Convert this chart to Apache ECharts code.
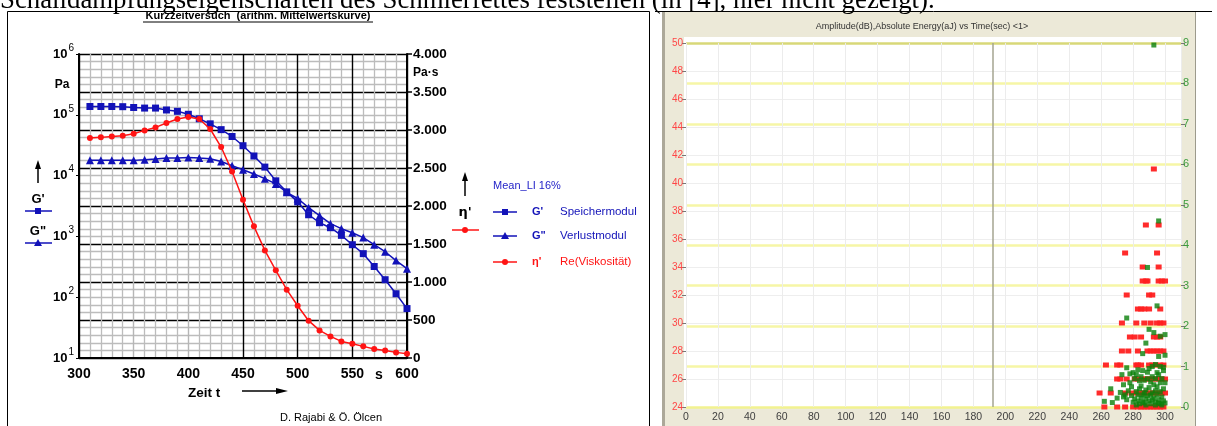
<!DOCTYPE html>
<html>
<head>
<meta charset="utf-8">
<script src="https://cdn.jsdelivr.net/npm/echarts@6/dist/echarts.min.js"></script>
<style>
  html, body { margin: 0; padding: 0; background: #fff; }
  #chart { width: 1217px; height: 426px; }
</style>
</head>
<body>
<div id="chart"></div>
<script>
// ---- Kurzzeitversuch: Zeit t [s] ----
const zeit = [310, 320, 330, 340, 350, 360, 370, 380, 390, 400,
              410, 420, 430, 440, 450, 460, 470, 480, 490, 500,
              510, 520, 530, 540, 550, 560, 570, 580, 590, 600];
// G' Speichermodul [Pa]
const speichermodul = [137000, 137000, 137000, 136000, 132000, 129000, 129000, 120000, 114000, 102000,
                       86000, 71000, 57000, 44000, 31000, 21000, 13800, 8200, 5400, 3700,
                       2270, 1680, 1390, 1040, 730, 520, 320, 194, 114, 65];
// G'' Verlustmodul [Pa]
const verlustmodul = [17800, 17800, 17800, 17800, 17800, 18200, 18700, 19400, 19400, 19900,
                      19400, 19000, 17100, 14500, 12500, 10600, 8900, 7300, 5300, 4200,
                      2970, 2190, 1620, 1340, 1150, 955, 730, 560, 400, 295];
// eta' Re(Viskosität) [Pa·s]
const viskositaet = [2895, 2903, 2916, 2925, 2951, 2995, 3034, 3092, 3145, 3171,
                     3145, 3013, 2776, 2455, 2083, 1732, 1416, 1153, 899, 688,
                     491, 363, 284, 218, 188, 153, 118, 100, 74, 57];

// ---- Schallemission: [Zeit s, Amplitude dB] ----
const amplitude = [
  [293, 41],
  [288, 37], [296, 37],
  [275, 35], [295, 35],
  [286, 34], [296, 34],
  [286, 33], [288, 33], [289, 33], [296, 33], [298, 33], [300, 33],
  [276, 32], [290, 32], [292, 32],
  [283, 31], [285, 31], [287, 31], [290, 31], [297, 31],
  [273, 30], [282, 30], [287, 30], [291, 30], [295, 30], [297, 30], [299, 30],
  [278, 29], [281, 29], [285, 29], [293, 29], [295, 29], [297, 29],
  [273, 28], [277, 28], [283, 28], [289, 28], [291, 28], [293, 28], [295, 28], [297, 28], [299, 28],
  [263, 27], [270, 27], [272, 27], [282, 27], [283, 27], [285, 27], [290, 27], [292, 27], [294, 27], [297, 27], [299, 27],
  [270, 26], [272, 26], [276, 26], [281, 26], [283, 26], [286, 26], [288, 26], [290, 26], [292, 26], [294, 26], [296, 26], [298, 26], [300, 26],
  [259, 25], [266, 25], [275, 25], [279, 25], [282, 25], [284, 25], [286, 25], [288, 25], [290, 25], [292, 25], [294, 25], [296, 25], [298, 25], [300, 25],
  [262, 24], [270, 24], [275, 24], [280, 24], [283, 24], [285, 24], [287, 24], [289, 24], [291, 24], [293, 24], [295, 24], [297, 24], [299, 24]
];
// [Zeit s, Absolute Energy aJ]
const energie = [
  [293, 8.95], [296, 4.6], [289, 3.45], [295, 2.5], [276, 2.2], [290, 1.92], [293, 1.84], [297, 1.75], [300, 1.79],
  [288, 1.58], [286, 1.32], [296, 1.25], [300, 1.28],
  [276, 0.97], [283, 0.92], [292, 1.0], [294, 1.05], [299, 0.98], [280, 0.85], [289, 0.86], [273, 0.8], [296, 0.8],
  [281, 0.7], [287, 0.66], [291, 0.62], [298, 0.7], [274, 0.55], [278, 0.6], [285, 0.52], [290, 0.48], [295, 0.5],
  [266, 0.45], [272, 0.36], [277, 0.4], [282, 0.38], [284, 0.45], [286, 0.3], [288, 0.42], [292, 0.35], [294, 0.4],
  [297, 0.38], [299, 0.45], [270, 0.22], [262, 0.14], [267, 0.11], [274, 0.25], [276, 0.18], [279, 0.28], [280, 0.12],
  [281, 0.2], [283, 0.15], [285, 0.22], [287, 0.1], [288, 0.2], [289, 0.28], [290, 0.15], [291, 0.08], [293, 0.22],
  [294, 0.12], [295, 0.3], [296, 0.18], [297, 0.08], [298, 0.25], [299, 0.15], [300, 0.1], [282, 0.05], [284, 0.08],
  [286, 0.12], [288, 0.05], [292, 0.18], [294, 0.05], [296, 0.1], [298, 0.05], [283, 0.3], [287, 0.35], [291, 0.3],
  [293, 0.55], [297, 0.6], [275, 0.3], [279, 0.5], [284, 0.65], [289, 0.7], [292, 0.75], [295, 0.85], [299, 0.9],
  [282, 0.8], [286, 0.9], [278, 0.82], [285, 0.75], [290, 0.95], [294, 0.7], [297, 1.0], [300, 0.6]
];
const cursorZeit = 192;

const SANS = '"Liberation Sans", Arial, sans-serif';
const BLUE = '#1212b8';
const RED = '#ff1414';

function germanThousands(v) {
  if (v < 1000) return String(v);
  const k = Math.floor(v / 1000), r = v % 1000;
  return k + '.' + String(r).padStart(3, '0');
}

const chart = echarts.init(document.getElementById('chart'), null, { renderer: 'canvas' });

// legend rows drawn beside the rheology plot
function legendRow(y, symbol, color, sym, label) {
  const els = [
    { type: 'line', shape: { x1: 493, y1: y, x2: 517, y2: y }, style: { stroke: color, lineWidth: 1.5 } },
    { type: 'text', x: 532, y: y, style: { text: sym, font: 'bold 11px ' + SANS, fill: color, verticalAlign: 'middle' } },
    { type: 'text', x: 560, y: y, style: { text: label, font: '11.5px ' + SANS, fill: color, verticalAlign: 'middle' } }
  ];
  if (symbol === 'rect') els.push({ type: 'rect', shape: { x: 502, y: y - 3, width: 6, height: 6 }, style: { fill: color } });
  if (symbol === 'triangle') els.push({ type: 'polygon', shape: { points: [[505, y - 4], [509, y + 3], [501, y + 3]] }, style: { fill: color } });
  if (symbol === 'circle') els.push({ type: 'circle', shape: { cx: 505, cy: y, r: 3 }, style: { fill: color } });
  return els;
}

const graphics = [
  // document line above the figures
  { type: 'text', x: 0, y: 1, style: { text: 'Schalldämpfungseigenschaften des Schmierfettes feststellen (in [4], hier nicht gezeigt).', font: '26.8px "Liberation Serif", "Times New Roman", serif', fill: '#000', verticalAlign: 'middle' } },
  // left figure frame
  { type: 'rect', shape: { x: 7.5, y: 11.5, width: 642, height: 430 }, style: { fill: 'none', stroke: '#000', lineWidth: 1 }, z: -1 },
  // right figure window
  { type: 'rect', shape: { x: 662, y: 12, width: 534, height: 420 }, style: { fill: '#ece9d8' }, z: -10 },
  { type: 'rect', shape: { x: 662, y: 12, width: 3, height: 420 }, style: { fill: '#aca899' }, z: -9 },
  { type: 'line', shape: { x1: 1195.5, y1: 12, x2: 1195.5, y2: 426 }, style: { stroke: '#9c9a8c', lineWidth: 1 }, z: -9 },
  { type: 'line', shape: { x1: 655, y1: 11.5, x2: 1212, y2: 11.5 }, style: { stroke: '#000', lineWidth: 1 }, z: -8 },
  { type: 'rect', shape: { x: 684, y: 37, width: 497, height: 370 }, style: { fill: '#fff' }, z: -9 },

  // titles
  { type: 'text', x: 258, y: 16, style: { text: 'Kurzzeitversuch  (arithm. Mittelwertskurve)', font: 'bold 11px ' + SANS, fill: '#000', align: 'center', verticalAlign: 'middle' } },
  { type: 'line', shape: { x1: 143, y1: 22, x2: 373, y2: 22 }, style: { stroke: '#000', lineWidth: 1 } },
  { type: 'text', x: 922, y: 27, style: { text: 'Amplitude(dB),Absolute Energy(aJ) vs Time(sec) <1>', font: '9px ' + SANS, fill: '#333', align: 'center', verticalAlign: 'middle' } },

  // axis annotations
  { type: 'text', x: 62, y: 85, style: { text: 'Pa', font: 'bold 12px ' + SANS, fill: '#000', align: 'center', verticalAlign: 'middle' } },
  { type: 'text', x: 413, y: 73, style: { text: 'Pa·s', font: 'bold 12px ' + SANS, fill: '#000', verticalAlign: 'middle' } },
  { type: 'text', x: 379, y: 375, style: { text: 's', font: 'bold 14px ' + SANS, fill: '#000', align: 'center', verticalAlign: 'middle' } },
  { type: 'text', x: 188, y: 393, style: { text: 'Zeit t', font: 'bold 13.5px ' + SANS, fill: '#000', verticalAlign: 'middle' } },
  { type: 'line', shape: { x1: 242, y1: 391, x2: 280, y2: 391 }, style: { stroke: '#000', lineWidth: 1.5 } },
  { type: 'polygon', shape: { points: [[288, 391], [276, 388], [276, 394]] }, style: { fill: '#000' } },
  { type: 'text', x: 331, y: 418, style: { text: 'D. Rajabi & Ö. Ölcen', font: '11px ' + SANS, fill: '#000', align: 'center', verticalAlign: 'middle' } },

  // left-hand symbol keys
  { type: 'line', shape: { x1: 38, y1: 183, x2: 38, y2: 166 }, style: { stroke: '#000', lineWidth: 1.5 } },
  { type: 'polygon', shape: { points: [[38, 160], [35, 169], [41, 169]] }, style: { fill: '#000' } },
  { type: 'text', x: 38, y: 199, style: { text: "G'", font: 'bold 13px ' + SANS, fill: '#000', align: 'center', verticalAlign: 'middle' } },
  { type: 'line', shape: { x1: 25, y1: 211, x2: 52, y2: 211 }, style: { stroke: BLUE, lineWidth: 1.5 } },
  { type: 'rect', shape: { x: 35, y: 208, width: 6, height: 6 }, style: { fill: BLUE } },
  { type: 'text', x: 38, y: 231, style: { text: 'G"', font: 'bold 13px ' + SANS, fill: '#000', align: 'center', verticalAlign: 'middle' } },
  { type: 'line', shape: { x1: 25, y1: 243, x2: 52, y2: 243 }, style: { stroke: BLUE, lineWidth: 1.5 } },
  { type: 'polygon', shape: { points: [[38, 239], [42, 246], [34, 246]] }, style: { fill: BLUE } },

  // eta' key on the right axis side
  { type: 'line', shape: { x1: 465, y1: 196, x2: 465, y2: 179 }, style: { stroke: '#000', lineWidth: 1.5 } },
  { type: 'polygon', shape: { points: [[465, 172], [462, 181], [468, 181]] }, style: { fill: '#000' } },
  { type: 'text', x: 465, y: 213, style: { text: "η'", font: 'bold 13px "DejaVu Sans", ' + SANS, fill: '#000', align: 'center', verticalAlign: 'middle' } },
  { type: 'line', shape: { x1: 452, y1: 230, x2: 479, y2: 230 }, style: { stroke: RED, lineWidth: 1.5 } },
  { type: 'circle', shape: { cx: 465, cy: 230, r: 3 }, style: { fill: RED } },

  // series legend
  { type: 'text', x: 493, y: 186, style: { text: 'Mean_LI 16%', font: '11px ' + SANS, fill: '#2424c8', verticalAlign: 'middle' } },
  ...legendRow(212, 'rect', BLUE, "G'", 'Speichermodul'),
  ...legendRow(236, 'triangle', BLUE, 'G"', 'Verlustmodul'),
  ...legendRow(262, 'circle', RED, "η'", 'Re(Viskosität)')
];

const option = {
  animation: false,
  backgroundColor: '#fff',
  textStyle: { fontFamily: SANS },
  grid: [
    { left: 79, top: 54, width: 328, height: 304 },
    { left: 686, top: 43, width: 495, height: 364 }
  ],
  xAxis: [
    {
      gridIndex: 0, type: 'value', min: 300, max: 600, interval: 50,
      axisLine: { lineStyle: { color: '#000', width: 2 } },
      axisTick: { show: false },
      axisLabel: { color: '#000', fontSize: 14, fontWeight: 'bold', margin: 9 },
      splitLine: { show: true, lineStyle: { color: ['#000', '#b6b6b6', '#b6b6b6', '#000', '#000', '#000', '#000'], width: 1.4 } },
      minorTick: { show: false, splitNumber: 5 },
      minorSplitLine: { show: true, lineStyle: { color: '#bcbcbc', width: 1.3 } }
    },
    {
      gridIndex: 1, type: 'value', min: 0, max: 310, interval: 20,
      axisLine: { show: false },
      axisTick: { show: false },
      axisLabel: { color: '#404040', fontSize: 10.5, margin: 5, showMaxLabel: false },
      splitLine: { show: true, lineStyle: { color: '#ececec', width: 1 } }
    }
  ],
  yAxis: [
    {
      gridIndex: 0, type: 'log', logBase: 10, min: 10, max: 1000000, position: 'left',
      axisLine: { show: true, lineStyle: { color: '#000', width: 2 } },
      axisTick: { show: true, length: 3, inside: false, lineStyle: { color: '#000' } },
      splitLine: { show: false },
      axisLabel: {
        margin: 5,
        formatter: v => '{b|10}{e|' + Math.round(Math.log10(v)) + '}',
        rich: {
          b: { fontSize: 13, fontWeight: 'bold', color: '#000', fontFamily: SANS, lineHeight: 22 },
          e: { fontSize: 10, color: '#000', fontFamily: SANS, verticalAlign: 'top', padding: [0, 0, 0, 1] }
        }
      }
    },
    {
      gridIndex: 0, type: 'value', min: 0, max: 4000, interval: 500, position: 'right',
      axisLine: { show: true, lineStyle: { color: '#000', width: 2 } },
      axisTick: { show: true, length: 5, lineStyle: { color: '#000', width: 1.5 } },
      axisLabel: { color: '#000', fontSize: 13.5, fontWeight: 'bold', margin: 6, formatter: v => germanThousands(v) },
      splitLine: { show: true, lineStyle: { color: '#000', width: 1.4 } },
      minorTick: { show: false, splitNumber: 5 },
      minorSplitLine: { show: true, lineStyle: { color: '#bcbcbc', width: 1.3 } }
    },
    {
      gridIndex: 1, type: 'value', min: 24, max: 50, interval: 2, position: 'left',
      axisLine: { show: false },
      axisTick: { show: true, length: 4, lineStyle: { color: '#777' } },
      axisLabel: { color: '#ff4646', fontSize: 10, margin: 3 },
      splitLine: { show: true, lineStyle: { color: '#eeeeee', width: 1 } }
    },
    {
      gridIndex: 1, type: 'value', min: 0, max: 9, interval: 1, position: 'right',
      axisLine: { show: false },
      axisTick: { show: true, length: 4, lineStyle: { color: '#777' } },
      axisLabel: { color: '#3c9c3c', fontSize: 11, margin: 2 },
      splitLine: { show: true, lineStyle: { color: ['#f2f290', '#f6f6a6', '#f6f6a6', '#f6f6a6', '#f6f6a6', '#f6f6a6', '#f6f6a6', '#f6f6a6', '#f6f6a6', '#d8d878'], width: 2.5 } }
    }
  ],
  series: [
    {
      name: "G' Speichermodul", type: 'line', xAxisIndex: 0, yAxisIndex: 0,
      data: zeit.map((t, i) => [t, speichermodul[i]]),
      symbol: 'rect', symbolSize: 7, showAllSymbol: true,
      lineStyle: { color: BLUE, width: 1.5 }, itemStyle: { color: BLUE }, z: 3
    },
    {
      name: 'G" Verlustmodul', type: 'line', xAxisIndex: 0, yAxisIndex: 0,
      data: zeit.map((t, i) => [t, verlustmodul[i]]),
      symbol: 'triangle', symbolSize: 8, showAllSymbol: true,
      lineStyle: { color: BLUE, width: 1.5 }, itemStyle: { color: BLUE }, z: 3
    },
    {
      name: "η' Re(Viskosität)", type: 'line', xAxisIndex: 0, yAxisIndex: 1,
      data: zeit.map((t, i) => [t, viskositaet[i]]),
      symbol: 'circle', symbolSize: 6, showAllSymbol: true,
      lineStyle: { color: RED, width: 1.5 }, itemStyle: { color: RED }, z: 4
    },
    {
      name: 'Amplitude', type: 'scatter', xAxisIndex: 1, yAxisIndex: 2,
      data: amplitude, symbol: 'rect', symbolSize: [6, 5],
      itemStyle: { color: '#ff2020', opacity: 0.95 },
      markLine: {
        silent: true, symbol: 'none', label: { show: false },
        lineStyle: { color: '#a4a490', width: 1.5, type: 'solid' },
        data: [{ xAxis: cursorZeit }]
      }
    },
    {
      name: 'Absolute Energy', type: 'scatter', xAxisIndex: 1, yAxisIndex: 3,
      data: energie, symbol: 'rect', symbolSize: [5, 5],
      itemStyle: { color: '#0a800a' }
    }
  ],
  graphic: graphics
};

chart.setOption(option);
</script>
</body>
</html>
